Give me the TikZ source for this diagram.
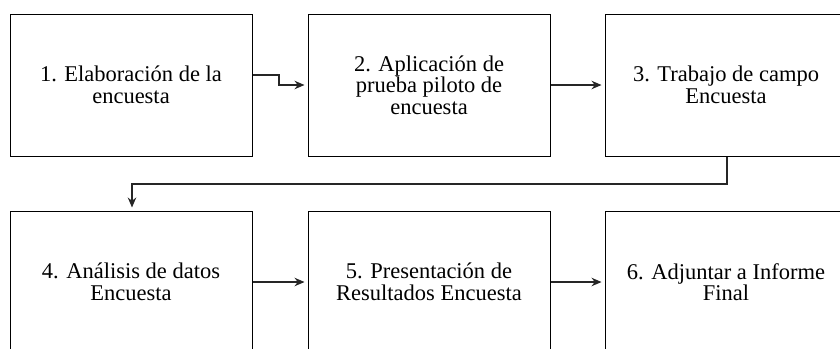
\documentclass[tikz,border=0pt]{standalone}
\usepackage{fontspec}
\setmainfont{Liberation Serif}
\usetikzlibrary{arrows.meta}
\tikzset{
  stepbox/.style={draw=black, line width=1pt, minimum width=242pt, minimum height=142pt,
    inner sep=0pt, align=center, font=\fontsize{22.5pt}{21.5pt}\selectfont},
  conn/.style={draw=black!85, line width=1.1pt, -{Stealth[length=10pt,width=8.5pt]}, shorten >=3pt}
}
\begin{document}
\begin{tikzpicture}[x=1pt,y=-1pt]
\clip (0,0) rectangle (840,348);
\fill[white] (0,0) rectangle (840,348);
\node[stepbox] (b1) at (131,85) {1. Elaboración de la\\encuesta};
\node[stepbox] (b2) at (429,85) {2. Aplicación de\\prueba piloto de\\encuesta};
\node[stepbox] (b3) at (726,85) {3. Trabajo de campo\\Encuesta};
\node[stepbox] (b4) at (131,282) {4. Análisis de datos\\Encuesta};
\node[stepbox] (b5) at (429,282) {5. Presentación de\\Resultados Encuesta};
\node[stepbox] (b6) at (726,282) {6. Adjuntar a Informe\\Final};
\coordinate (k1) at (279,85);
\coordinate (k2) at (727,184);
\draw[conn] ([yshift=10pt]b1.east) -| (k1) -- (b2.west);
\draw[conn] (b2) -- (b3);
\draw[conn] (b3.south -| k2) -- (k2) -| ([xshift=1pt]b4.north);
\draw[conn] (b4) -- (b5);
\draw[conn] (b5) -- (b6);
\end{tikzpicture}
\end{document}
